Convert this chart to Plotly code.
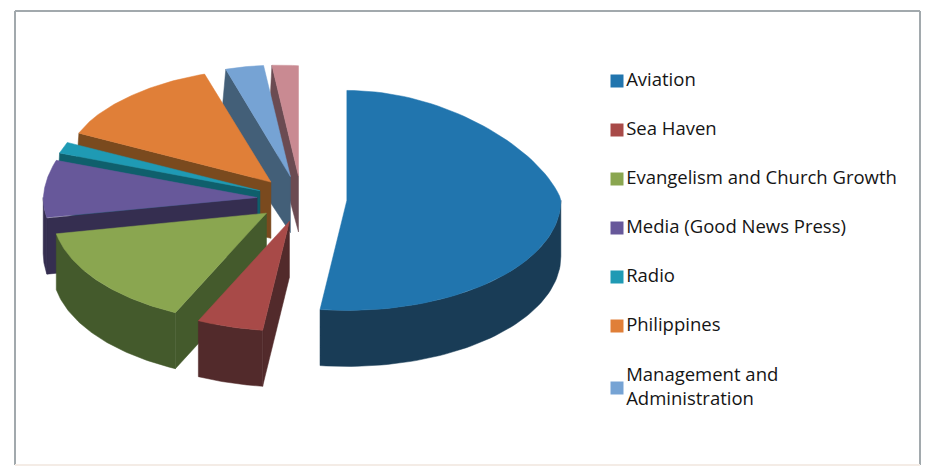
import numpy as np
import plotly.graph_objects as go

categories = ["Aviation", "Sea Haven", "Evangelism and Church Growth",
              "Media (Good News Press)", "Radio", "Philippines",
              "Management and<br>Administration", "Other"]
values = [52, 5, 15, 8, 1.5, 12.7, 3.3, 2.5]
top_colors = ["#2175AE", "#A84A48", "#8AA650", "#67589A", "#1F9AB4", "#E07F38", "#76A3D4", "#C98A92"]
side_colors = ["#193C56", "#522A2B", "#445A2C", "#352E50", "#0F5F6C", "#7A4A1E", "#435F78", "#6B4B52"]
legend_shown = [True] * 7 + [False]

CX, CY, RX, RY, DEPTH, PULL = 302, 199, 214, 110, 56, 0.21
K, KLEFT, LIFT = 0.2, 0.8, 10
LEG_X, LEG_Y0, LEG_DY = 617, 81, 49
total = sum(values)
edges = np.cumsum([0] + values) / total * 360

def pt(t, ax, ay):
    r = np.radians(t)
    return ax + RX * np.sin(r), ay - RY * np.cos(r)

def persp(x, y, pivot):
    x, y = np.asarray(x, float), np.asarray(y, float)
    back = np.maximum(0, (CY - y) / RY)
    left = np.minimum(1, np.maximum(0, (CX - x) / RX))
    s = 1 - K * back * (1 - KLEFT * left)
    return pivot + (x - pivot) * s, y - LIFT * left * back

fig = go.Figure()
def poly(xs, ys, color, name, pivot):
    X, Y = persp(xs, ys, pivot)
    fig.add_trace(go.Scatter(x=X.tolist(), y=Y.tolist(), mode="lines", fill="toself", fillcolor=color,
                             line=dict(color=color, width=0.5), showlegend=False, hoverinfo="text",
                             text=name))

slices = list(range(len(values)))
mids = [(edges[i] + edges[i + 1]) / 2 for i in slices]
order = sorted(slices, key=lambda i: -np.cos(np.radians(mids[i])))
for i in order:
    a, b, m = edges[i], edges[i + 1], mids[i]
    r = np.radians(m)
    ax, ay = CX + PULL * RX * np.sin(r), CY - PULL * RY * np.cos(r)
    name = categories[i].replace("<br>", " ")
    for t, vis in ((a, 180 < a < 360), (b, 0 < b < 180)):
        if vis:
            ox, oy = pt(t, ax, ay)
            poly([ax, ox, ox, ax, ax], [ay, oy, oy + DEPTH, ay + DEPTH, ay], side_colors[i], name, ax)
    lo, hi = max(a, 90), min(b, 270)
    if lo < hi:
        ts = np.linspace(lo, hi, 60)
        xt, yt = pt(ts, ax, ay)
        poly(np.r_[xt, xt[::-1], xt[0]], np.r_[yt, yt[::-1] + DEPTH, yt[0]], side_colors[i], name, ax)
    ts = np.linspace(a, b, 80)
    xt, yt = pt(ts, ax, ay)
    poly(np.r_[ax, xt, ax], np.r_[ay, yt, ay], top_colors[i], name, ax)

row = 0
for i in slices:
    if legend_shown[i]:
        extra = 13 if "<br>" in categories[i] else 0
        fig.add_trace(go.Scatter(x=[LEG_X], y=[LEG_Y0 + row * LEG_DY + extra], mode="markers+text",
                                 showlegend=False, hoverinfo="skip",
                                 text=[categories[i]], textposition="middle right",
                                 textfont=dict(size=18.5, color="#151515"),
                                 marker=dict(symbol="square", size=13, color=top_colors[i])))
        row += 1

frame = dict(type="line", xref="x", yref="y", line=dict(color="#A2A9AD", width=2), layer="below")
fig.update_layout(
    width=926, height=467, margin=dict(l=0, r=0, t=0, b=0), showlegend=False,
    paper_bgcolor="#FFFFFF", plot_bgcolor="#FFFFFF",
    xaxis=dict(range=[0, 926], visible=False, fixedrange=True),
    yaxis=dict(range=[467, 0], visible=False, fixedrange=True),
    font=dict(family="Open Sans", size=18, color="#151515"),
    shapes=[dict(frame, x0=15, y0=11, x1=920, y1=11),
            dict(frame, x0=15, y0=11, x1=15, y1=465),
            dict(frame, x0=920, y0=11, x1=920, y1=465),
            dict(type="line", xref="x", yref="y", x0=15, y0=465, x1=920, y1=465,
                 line=dict(color="#F4ECE6", width=2), layer="below")],
)
fig.write_html("out.html", post_script="document.body.style.margin='0';",
               config={"displayModeBar": False})
